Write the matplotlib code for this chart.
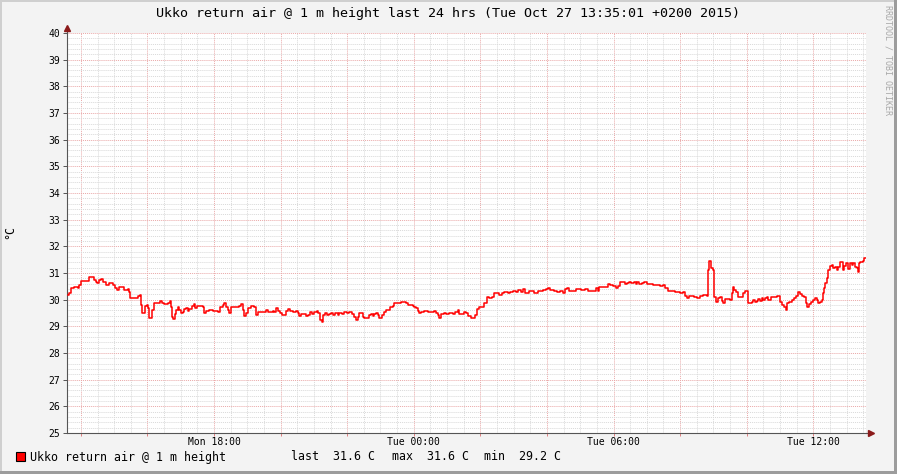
import matplotlib
matplotlib.use("Agg")
import matplotlib.pyplot as plt
import matplotlib.dates as mdates
from matplotlib.patches import Rectangle
import pandas as pd

# hours since Mon 2015-10-26 00:00 (local time) and temperature in degC
hours = [13.62, 13.65, 13.71, 13.80, 13.92, 13.95, 14.01, 14.16, 14.25, 14.37,
         14.40, 14.46, 14.49, 14.55, 14.61, 14.67, 14.76, 14.85, 14.97, 15.03,
         15.09, 15.15, 15.24, 15.30, 15.42, 15.45, 15.48, 15.57, 15.72, 15.78,
         15.81, 15.84, 15.93, 15.99, 16.02, 16.05, 16.14, 16.20, 16.38, 16.44,
         16.50, 16.62, 16.68, 16.71, 16.74, 16.77, 16.83, 16.86, 16.92, 16.95,
         17.01, 17.07, 17.10, 17.16, 17.22, 17.25, 17.34, 17.40, 17.43, 17.49,
         17.67, 17.70, 17.76, 17.85, 17.97, 18.12, 18.18, 18.27, 18.30, 18.36,
         18.42, 18.45, 18.51, 18.75, 18.81, 18.87, 18.90, 18.96, 19.02, 19.11,
         19.20, 19.26, 19.32, 19.56, 19.62, 19.77, 19.80, 19.86, 19.92, 19.98,
         20.04, 20.16, 20.22, 20.28, 20.37, 20.46, 20.52, 20.55, 20.61, 20.76,
         20.82, 20.88, 20.94, 21.00, 21.09, 21.12, 21.18, 21.24, 21.27, 21.33,
         21.39, 21.45, 21.51, 21.57, 21.63, 21.72, 21.75, 21.84, 21.90, 21.99,
         22.05, 22.14, 22.20, 22.26, 22.32, 22.35, 22.47, 22.50, 22.65, 22.71,
         22.77, 22.80, 22.86, 22.92, 22.95, 23.04, 23.10, 23.16, 23.28, 23.37,
         23.40, 23.61, 23.76, 23.82, 23.97, 24.00, 24.06, 24.12, 24.15, 24.21,
         24.30, 24.42, 24.60, 24.66, 24.72, 24.75, 24.81, 24.90, 24.96, 25.05,
         25.17, 25.23, 25.32, 25.35, 25.50, 25.56, 25.62, 25.71, 25.83, 25.89,
         25.95, 26.10, 26.19, 26.25, 26.34, 26.40, 26.55, 26.64, 26.70, 26.82,
         26.88, 26.97, 27.06, 27.12, 27.21, 27.27, 27.33, 27.45, 27.60, 27.72,
         27.87, 27.96, 28.02, 28.08, 28.20, 28.29, 28.38, 28.47, 28.53, 28.59,
         28.65, 28.86, 29.01, 29.13, 29.22, 29.46, 29.52, 29.55, 29.82, 29.88,
         29.97, 30.06, 30.12, 30.18, 30.33, 30.39, 30.45, 30.51, 30.60, 30.66,
         30.72, 30.78, 30.87, 30.93, 31.02, 31.20, 31.41, 31.50, 31.56, 31.65,
         31.86, 32.01, 32.10, 32.16, 32.22, 32.28, 32.43, 32.52, 32.61, 32.70,
         32.82, 32.85, 32.88, 32.94, 33.00, 33.03, 33.09, 33.15, 33.21, 33.27,
         33.30, 33.36, 33.51, 33.57, 33.60, 33.63, 33.69, 33.75, 33.90, 33.96,
         34.05, 34.17, 34.20, 34.26, 34.32, 34.35, 34.41, 34.47, 34.50, 34.56,
         34.62, 34.65, 34.74, 34.92, 35.01, 35.07, 35.13, 35.19, 35.22, 35.28,
         35.37, 35.43, 35.49, 35.55, 35.61, 35.67, 35.73, 35.79, 35.82, 35.88,
         35.94, 36.00, 36.06, 36.12, 36.15, 36.21, 36.27, 36.30, 36.33, 36.36,
         36.42, 36.45, 36.51, 36.57, 36.60, 36.66, 36.72, 36.75, 36.81, 36.90,
         36.93, 36.99, 37.05, 37.11, 37.17, 37.20, 37.26, 37.32, 37.35, 37.38,
         37.41, 37.50, 37.53, 37.58]
temp = [30.18, 30.25, 30.44, 30.48, 30.44, 30.55, 30.70, 30.70, 30.85, 30.85,
        30.74, 30.66, 30.63, 30.74, 30.78, 30.66, 30.55, 30.63, 30.55, 30.44,
        30.36, 30.48, 30.48, 30.36, 30.40, 30.29, 30.06, 30.06, 30.14, 30.18,
        29.80, 29.50, 29.76, 29.80, 29.69, 29.31, 29.61, 29.88, 29.95, 29.88,
        29.84, 29.88, 29.95, 29.73, 29.35, 29.27, 29.46, 29.61, 29.73, 29.61,
        29.50, 29.54, 29.65, 29.69, 29.58, 29.65, 29.76, 29.84, 29.69, 29.76,
        29.73, 29.50, 29.58, 29.61, 29.58, 29.54, 29.73, 29.80, 29.88, 29.73,
        29.61, 29.50, 29.73, 29.76, 29.84, 29.61, 29.39, 29.50, 29.69, 29.76,
        29.73, 29.43, 29.54, 29.61, 29.54, 29.58, 29.54, 29.69, 29.58, 29.50,
        29.43, 29.58, 29.65, 29.58, 29.54, 29.58, 29.50, 29.39, 29.46, 29.39,
        29.43, 29.54, 29.46, 29.54, 29.58, 29.50, 29.24, 29.16, 29.43, 29.50,
        29.43, 29.46, 29.50, 29.43, 29.50, 29.43, 29.50, 29.46, 29.54, 29.50,
        29.54, 29.46, 29.35, 29.24, 29.35, 29.50, 29.35, 29.31, 29.43, 29.46,
        29.39, 29.46, 29.50, 29.43, 29.31, 29.43, 29.54, 29.61, 29.73, 29.76,
        29.88, 29.91, 29.88, 29.80, 29.76, 29.73, 29.69, 29.58, 29.50, 29.54,
        29.58, 29.54, 29.58, 29.50, 29.43, 29.31, 29.46, 29.50, 29.46, 29.50,
        29.46, 29.54, 29.61, 29.46, 29.54, 29.50, 29.39, 29.31, 29.43, 29.65,
        29.73, 29.88, 30.10, 30.06, 30.10, 30.25, 30.18, 30.25, 30.29, 30.25,
        30.29, 30.33, 30.29, 30.36, 30.29, 30.40, 30.25, 30.33, 30.25, 30.33,
        30.36, 30.40, 30.44, 30.36, 30.33, 30.29, 30.33, 30.25, 30.40, 30.44,
        30.33, 30.40, 30.36, 30.40, 30.33, 30.44, 30.33, 30.48, 30.59, 30.55,
        30.51, 30.44, 30.51, 30.66, 30.59, 30.63, 30.66, 30.63, 30.66, 30.59,
        30.66, 30.59, 30.63, 30.66, 30.59, 30.55, 30.51, 30.55, 30.44, 30.33,
        30.29, 30.25, 30.29, 30.14, 30.06, 30.14, 30.10, 30.06, 30.14, 30.18,
        30.14, 31.11, 31.45, 31.19, 31.11, 30.10, 29.91, 30.06, 30.10, 29.95,
        29.88, 30.03, 29.99, 30.25, 30.48, 30.36, 30.29, 30.10, 30.25, 30.33,
        29.88, 29.91, 29.99, 29.91, 29.95, 30.03, 29.95, 30.06, 29.99, 30.06,
        30.10, 29.99, 30.10, 30.14, 29.91, 29.80, 29.73, 29.61, 29.88, 29.91,
        29.99, 30.06, 30.14, 30.29, 30.21, 30.14, 30.10, 29.88, 29.73, 29.84,
        29.91, 29.99, 30.06, 29.99, 29.88, 29.91, 29.99, 30.25, 30.44, 30.63,
        30.81, 31.11, 31.26, 31.30, 31.19, 31.22, 31.11, 31.22, 31.41, 31.11,
        31.26, 31.38, 31.15, 31.38, 31.30, 31.38, 31.22, 31.19, 31.04, 31.38,
        31.41, 31.45, 31.56, 31.56]

title = "Ukko return air @ 1 m height last 24 hrs (Tue Oct 27 13:35:01 +0200 2015)"
series_name = "Ukko return air @ 1 m height"
stats = [("last", 31.6), ("max", 31.6), ("min", 29.2)]

day0 = pd.Timestamp("2015-10-26 00:00")
t = day0 + pd.to_timedelta(hours, unit="h")
t_start = pd.Timestamp("2015-10-26 13:35:01")
t_end = pd.Timestamp("2015-10-27 13:35:01")

mono = "DejaVu Sans Mono"
plt.rcParams.update({"font.family": mono, "font.size": 7})

W, H = 897, 474
fig = plt.figure(figsize=(W / 100, H / 100), dpi=100, facecolor="#f3f3f3")


def fx(px):
    return px / W


def fy(py):
    return 1 - py / H


# canvas border, light on top/left and dark on bottom/right
fig.add_artist(Rectangle((0, fy(2)), 1, 2 / H, transform=fig.transFigure, color="#cfcfcf", lw=0))
fig.add_artist(Rectangle((0, 0), 2 / W, 1, transform=fig.transFigure, color="#cfcfcf", lw=0))
fig.add_artist(Rectangle((0, 0), 1, 3 / H, transform=fig.transFigure, color="#9c9c9c", lw=0))
fig.add_artist(Rectangle((fx(W - 3), 0), 3 / W, 1, transform=fig.transFigure, color="#9c9c9c", lw=0))

ax = fig.add_axes([fx(67), fy(433), fx(866) - fx(67), fy(33) - fy(433)])
ax.set_facecolor("white")
ax.plot(t, temp, color="#ff0000", lw=1.1, drawstyle="steps-post", zorder=3)

ax.set_xlim(t_start, t_end)
ax.set_ylim(25, 40)

ax.yaxis.set_major_locator(plt.MultipleLocator(1))
ax.yaxis.set_minor_locator(plt.MultipleLocator(0.2))
ax.xaxis.set_major_locator(mdates.HourLocator(byhour=range(0, 24, 2)))
ax.xaxis.set_minor_locator(mdates.MinuteLocator(byminute=[0, 30]))


def xfmt(v, pos):
    d = mdates.num2date(v)
    return d.strftime("%a %H:%M") if d.hour % 6 == 0 else ""


ax.xaxis.set_major_formatter(plt.FuncFormatter(xfmt))

dots = (0, (1, 1))
ax.grid(which="minor", color="#d9d9d9", lw=0.7, ls=dots, zorder=0)
ax.grid(which="major", color="#eaa8a8", lw=0.7, ls=dots, zorder=1)
ax.set_axisbelow(True)

for s in ["top", "right"]:
    ax.spines[s].set_visible(False)
for s in ["left", "bottom"]:
    ax.spines[s].set_color("#555555")
    ax.spines[s].set_linewidth(0.8)

ax.tick_params(axis="y", which="major", length=3, width=0.7, color="#555555", pad=2, labelsize=7)
ax.tick_params(axis="x", which="major", length=2, width=0.7, color="#e08080", pad=1, labelsize=7)
ax.tick_params(which="minor", length=0)

# axis arrows
ax.plot([0, 0], [1, 1.012], color="#555555", lw=0.8, transform=ax.transAxes, clip_on=False)
ax.plot([0], [1.012], marker="^", ms=4, color="#8b1a1a", transform=ax.transAxes, clip_on=False)
ax.plot([1, 1.005], [0, 0], color="#555555", lw=0.8, transform=ax.transAxes, clip_on=False)
ax.plot([1.006], [0], marker=">", ms=4, color="#8b1a1a", transform=ax.transAxes, clip_on=False)

fig.text(fx(448), fy(14), title, ha="center", va="center", fontsize=9.6)
fig.text(fx(10), fy(232), "°C", rotation=90, ha="center", va="center", fontsize=8.4)
fig.text(fx(888), fy(60), "RRDTOOL / TOBI OETIKER", rotation=270, ha="center", va="center",
         fontsize=6, color="#a8a8a8")

# legend row
fig.add_artist(Rectangle((fx(16), fy(461)), 9 / W, 9 / H, transform=fig.transFigure,
                         facecolor="#ff0000", edgecolor="black", lw=0.8))
fig.text(fx(30), fy(457), series_name, ha="left", va="center", fontsize=8.4)
for (lab, val), px in zip(stats, [291, 392, 484]):
    fig.text(fx(px), fy(457), f"{lab}  {val:.1f} C", ha="left", va="center", fontsize=8.4)

fig.savefig("out.png", dpi=100, facecolor=fig.get_facecolor())
